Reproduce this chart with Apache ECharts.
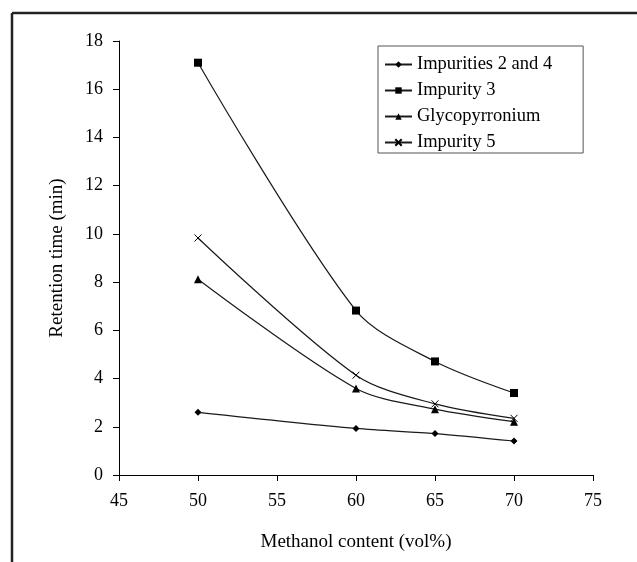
<!DOCTYPE html>
<html>
<head>
<meta charset="utf-8">
<script src="https://cdn.jsdelivr.net/npm/echarts@6/dist/echarts.min.js"></script>
<style>
html,body{margin:0;padding:0;background:#fff;}
#chart{width:637px;height:562px;}
</style>
</head>
<body>
<div id="chart"></div>
<script>
// methanol content (vol%)
const methanol = [50, 60, 65, 70]
// retention times (min)
const imp24 = [2.6, 1.93, 1.72, 1.41]
const imp3 = [17.1, 6.82, 4.71, 3.4]
const glyco = [8.12, 3.59, 2.73, 2.21]
const imp5 = [9.83, 4.14, 2.95, 2.35]
const seriesNames = ['Impurities 2 and 4', 'Impurity 3', 'Glycopyrronium', 'Impurity 5']

const font = 'Liberation Serif'
const ink = '#1a1a1a'

function pairs(ys){
  return methanol.map((x, i) => [x, ys[i]])
}

function line(name, ys, symbol, size, extra){
  return Object.assign({
    name: name,
    type: 'line',
    smooth: 0.3,
    data: pairs(ys),
    symbol: symbol,
    symbolSize: size,
    showAllSymbol: true,
    lineStyle: { color: ink, width: 1.2 },
    itemStyle: { color: '#000' },
    emphasis: { disabled: true }
  }, extra || {})
}

const myChart = echarts.init(document.getElementById('chart'), null, { renderer: 'canvas' })

const option = {
  backgroundColor: '#fff',
  animation: false,
  textStyle: { fontFamily: font, color: '#000' },
  graphic: [
    { type: 'line', shape: { x1: 12, y1: 13, x2: 637, y2: 13 }, style: { stroke: '#222', lineWidth: 2.5 } },
    { type: 'line', shape: { x1: 12, y1: 13, x2: 12, y2: 562 }, style: { stroke: '#222', lineWidth: 2.5 } }
  ],
  grid: { left: 119, right: 44, top: 41, bottom: 87 },
  legend: {
    orient: 'vertical',
    left: 378,
    top: 46,
    data: seriesNames,
    itemWidth: 27,
    itemHeight: 8,
    itemGap: 7,
    padding: [9, 31, 1, 6],
    borderColor: '#555',
    borderWidth: 1,
    selectedMode: false,
    textStyle: { fontFamily: font, fontSize: 18.5, lineHeight: 19, color: '#000' }
  },
  xAxis: {
    type: 'value',
    min: 45,
    max: 75,
    interval: 5,
    name: 'Methanol content (vol%)',
    nameLocation: 'middle',
    nameGap: 58,
    nameTextStyle: { fontFamily: font, fontSize: 19, color: '#000' },
    axisLine: { lineStyle: { color: '#000', width: 1 } },
    axisTick: { show: true, length: 6, lineStyle: { color: '#000' } },
    axisLabel: { fontFamily: font, fontSize: 18, color: '#000', margin: 17 },
    splitLine: { show: false }
  },
  yAxis: {
    type: 'value',
    min: 0,
    max: 18,
    interval: 2,
    name: 'Retention time (min)',
    nameLocation: 'middle',
    nameGap: 52,
    nameTextStyle: { fontFamily: font, fontSize: 19, color: '#000' },
    axisLine: { show: true, lineStyle: { color: '#000', width: 1 } },
    axisTick: { show: true, length: 6, lineStyle: { color: '#000' } },
    axisLabel: { fontFamily: font, fontSize: 18, color: '#000', margin: 16 },
    splitLine: { show: false }
  },
  series: [
    line(seriesNames[0], imp24, 'diamond', 7),
    line(seriesNames[1], imp3, 'rect', 8),
    line(seriesNames[2], glyco, 'triangle', 8),
    line(seriesNames[3], imp5, 'path://M0,0L10,10M10,0L0,10', 7, {
      itemStyle: { color: '#000', borderColor: '#000', borderWidth: 1 }
    })
  ]
}

myChart.setOption(option)
</script>
</body>
</html>
